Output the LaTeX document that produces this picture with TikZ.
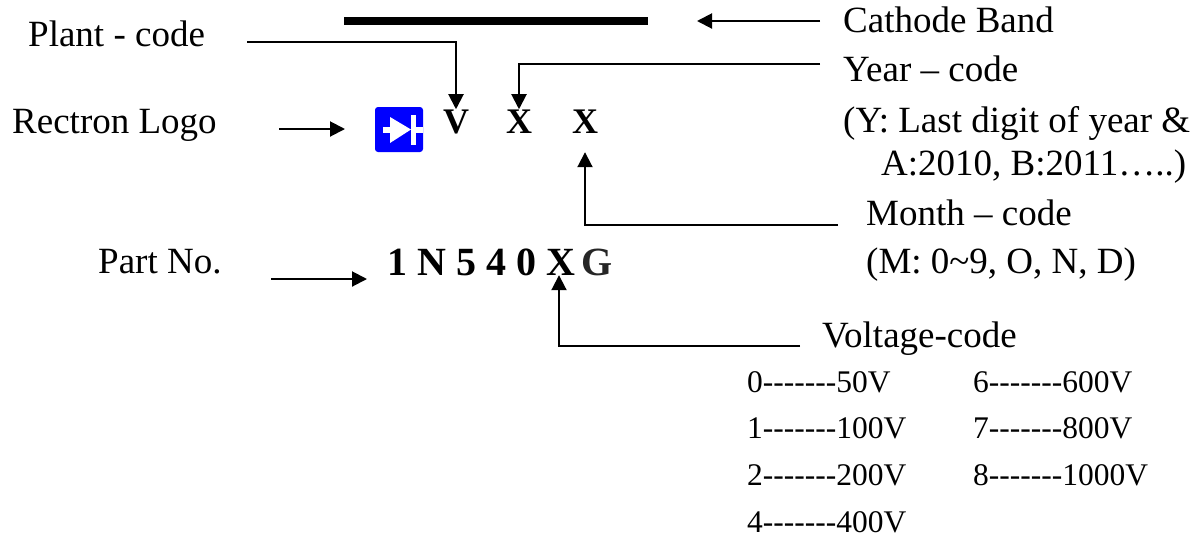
\documentclass[tikz,border=0pt]{standalone}
\usepackage{fontspec}
\setmainfont{Liberation Serif}
\newfontfamily\voltfont{Liberation Serif}
\usetikzlibrary{arrows.meta,positioning}

\begin{document}
\begin{tikzpicture}[
  x=1pt, y=-1pt,
  lbl/.style={inner sep=0pt, anchor=base west, font=\fontsize{37}{40}\selectfont},
  code/.style={inner sep=0pt, anchor=base, font=\fontsize{36}{40}\selectfont\bfseries},
  partcode/.style={inner sep=0pt, anchor=base, font=\fontsize{40}{42}\selectfont\bfseries},
  volt/.style={inner sep=0pt, anchor=base west, font=\fontsize{31.5}{34}\voltfont},
  arr/.style={-{Triangle[length=15pt,width=15pt]}, line width=2pt}
]
  \useasboundingbox (0,0) rectangle (1203,542);

  \node[lbl] (plant) at (28,46) {Plant - code};
  \node[lbl] (logotext) at (12,133) {Rectron Logo};
  \node[lbl] (partno) at (98,273) {Part No.};
  \node[lbl] (cathode) at (843,32) {Cathode Band};
  \node[lbl] (year) at (843,81) {Year -- code};
  \node[lbl] (yearA) at (843,132) {(Y: Last digit of year \&};
  \node[lbl] (yearB) at (881,175) {A:2010, B:2011\ldots..)};
  \node[lbl] (month) at (866,225) {Month -- code};
  \node[lbl] (monthB) at (866,273) {(M: 0{\char"7E}9, O, N, D)};
  \node[lbl] (voltage) at (822,347) {Voltage-code};

  \node[volt] (v0) at (747,392) {0-------50V};
  \node[volt] (v1) at (747,438) {1-------100V};
  \node[volt] (v2) at (747,485) {2-------200V};
  \node[volt] (v4) at (747,532) {4-------400V};
  \node[volt] (v6) at (973,392) {6-------600V};
  \node[volt] (v7) at (973,438) {7-------800V};
  \node[volt] (v8) at (973,485) {8-------1000V};

  \node[code] (markV) at (456,133) {V};
  \node[code] (markY) at (519,133) {X};
  \node[code] (markM) at (585,133) {X};
  \node[partcode,anchor=base west] (partA) at (387,275) {1 N 5 4 0};
  \node[partcode] (partX) at (561,275) {X};
  \node[partcode,text=black!85] (partG) at (597.5,275) {G};

  % logo
  \node[fill=blue, rounded corners=3pt, minimum width=48pt, minimum height=45pt, inner sep=0pt] (logo) at (399,129.5) {};
  \fill[white] ([xshift=-9pt,yshift=12.5pt]logo.center) -- ([xshift=12pt]logo.center) -- ([xshift=-9pt,yshift=-13.5pt]logo.center) -- cycle;
  \fill[white] ([xshift=12pt,yshift=-15pt]logo.center) rectangle ([xshift=17pt,yshift=15pt]logo.center);
  \fill[white] ([xshift=-16pt,yshift=-3pt]logo.center) rectangle ([xshift=-9pt,yshift=3pt]logo.center);
  \fill[white] ([xshift=17pt,yshift=-3pt]logo.center) rectangle ([xshift=24pt,yshift=3pt]logo.center);

  % cathode band
  \node[fill=black, minimum width=304pt, minimum height=8.5pt, inner sep=0pt] (band) at (496,21) {};

  \coordinate (plantEnd) at (247,42);
  \coordinate (logoEnd) at (279,129);
  \coordinate (logoTip) at (345,129);
  \coordinate (partEnd) at (271,279);
  \coordinate (partTip) at (367,279);
  \coordinate (cathodeEnd) at (820,21);
  \coordinate (cathodeTip) at (697,21);
  \coordinate (yearEnd) at (820,64);
  \coordinate (monthEnd) at (838,225);
  \coordinate (voltEnd) at (800,346);

  \draw[arr] (plantEnd) -| (markV.north);
  \draw[arr] (yearEnd) -| (markY.north);
  \draw[arr] (monthEnd) -| ([yshift=-19pt]markM.south);
  \draw[arr] (voltEnd) -| ([xshift=-2pt]partX.south);
  \draw[arr] (cathodeEnd) -- (cathodeTip);
  \draw[arr] (logoEnd) -- (logoTip);
  \draw[arr] (partEnd) -- (partTip);
\end{tikzpicture}
\end{document}
